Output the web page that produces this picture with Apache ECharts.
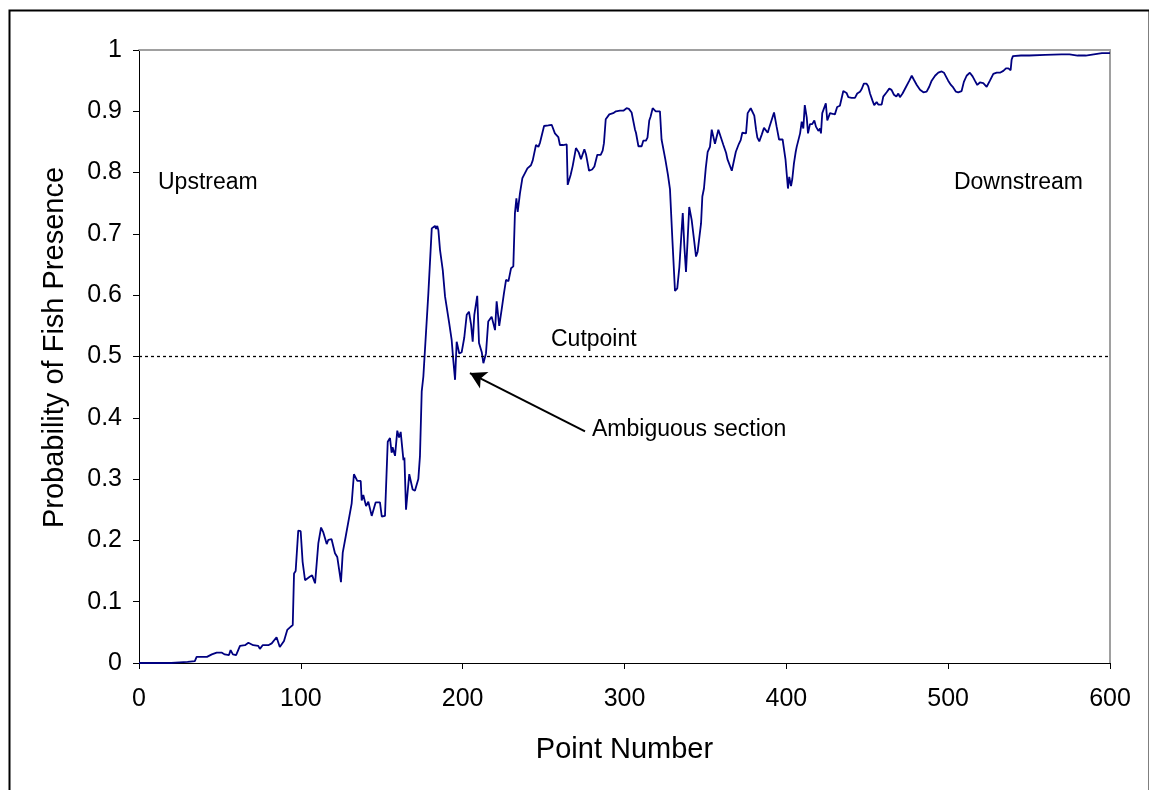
<!DOCTYPE html>
<html>
<head>
<meta charset="utf-8">
<script src="https://cdn.jsdelivr.net/npm/echarts@6/dist/echarts.min.js"></script>
<style>
  html, body { margin: 0; padding: 0; background: #ffffff; }
  #chart { width: 1149px; height: 790px; }
</style>
</head>
<body>
<div id="chart"></div>
<script>
// Point number along the stream network (upstream -> downstream)
const pointNumbers = [
  0, 10, 20, 25, 30, 34.5, 35.6, 42, 45, 48, 51, 53, 55.6, 56.6, 58, 60, 62.4, 65.5, 67.6, 70.6,
  73.7, 74.7, 76.4, 79.9, 82, 85, 87, 89.6, 91.6, 93.3, 95, 95.8, 96.8, 98.4, 99.9, 101.1, 102.6, 105.7, 107, 108.8,
  110.8, 112.5, 113.9, 116, 117, 119, 121.1, 122.5, 124.8, 125.9, 127.7, 128.9, 131.4, 132.8, 134.9, 137, 137.6, 138.6, 140.3, 141.7,
  143.8, 146.2, 148.9, 150, 152, 153.7, 155.1, 156.1, 156.7, 158.2, 159.6, 160.7, 161.7, 163.4, 164, 165, 167, 169.1, 170.5, 172.6,
  173.6, 174.7, 175.7, 176.7, 178.8, 179.5, 180.9, 181.9, 182.9, 183.6, 184.3, 185, 186, 187.7, 189.1, 189.8, 191.7, 193.2, 194.2, 195.3,
  196.3, 197.9, 199.4, 201, 202.5, 203.9, 205.2, 206.2, 207.2, 209, 210.1, 211, 211.8, 212.8, 214.4, 215.8, 217.9, 220, 221, 222.6,
  224.1, 225.5, 226.8, 228.3, 229.9, 231.3, 232.3, 233.2, 234, 235.4, 236.9, 238.1, 240, 242.2, 243.3, 245.3, 246.8, 247.8, 249, 250.3,
  251.5, 252.9, 255, 257, 259.1, 260.1, 261, 262, 263.2, 264.3, 264.9, 266.7, 268, 269, 270, 271.7, 273.1, 275.2, 276.2, 278.1,
  279, 280, 281.4, 282.4, 283.2, 285.3, 286.5, 287.3, 288.4, 289.6, 290.6, 293, 294.7, 297.2, 299.3, 301.3, 302.7, 304.4, 305.5, 306.5,
  307.1, 308.6, 310.6, 311.6, 313.2, 314.2, 315.3, 316.1, 317.4, 318.2, 319.3, 321.9, 322.9, 323.9, 325.2, 326.8, 328.1, 329.6, 331.2, 332.6,
  333.9, 335.3, 336, 337, 338, 339, 340, 341.5, 343, 344.2, 345.2, 346.2, 347.3, 348.1, 349.1, 350.2, 351.4, 352.8, 353.9, 354.9,
  355.9, 358, 359, 361.1, 362.8, 363.6, 364.8, 366.3, 367.3, 368.8, 369.8, 370.7, 371.8, 372.8, 375.1, 376.1, 378, 380.2, 381.3, 382.1,
  383.3, 384.8, 386.2, 387.3, 388.5, 389.5, 390.5, 392.4, 394, 395.5, 397.7, 398.5, 399.5, 400.3, 401, 401.8, 402.9, 403.7, 404.7, 405.8,
  406.4, 407.5, 408.5, 409.5, 410.5, 411.4, 412.6, 413.4, 414.6, 416, 417.3, 418.3, 419.8, 420.8, 421.4, 422.2, 423.3, 424.4, 425.3, 427,
  428.6, 430, 431.4, 433.1, 434.2, 435.2, 436.2, 437.2, 438.3, 440.3, 442.4, 443.8, 445.5, 446.5, 447.9, 449.6, 450.6, 451.7, 453.3, 454.3,
  455.8, 456.8, 458.9, 459.9, 461, 462, 463.6, 465, 466.5, 468, 469.2, 470.2, 471.8, 474, 476, 477.5, 478.9, 480.6, 482.6, 484.7,
  486.7, 488.3, 489.8, 491.9, 493.9, 496, 497.4, 498.6, 500, 501.7, 503.1, 504.8, 506.2, 508.3, 509.7, 511.4, 513.4, 515.1, 516.5, 518,
  519.6, 521.7, 523.8, 525.8, 527.9, 530, 532, 534.1, 535.7, 537.2, 538.6, 539.2, 540, 545, 550, 560, 570, 575, 580, 585,
  590, 595, 600
];

// Modelled probability of fish presence at each point
const probabilities = [
  0, 0, 0, 0.001, 0.002, 0.003, 0.010, 0.010, 0.014, 0.017, 0.017, 0.014, 0.013, 0.021, 0.014, 0.013, 0.028, 0.029, 0.033, 0.029,
  0.028, 0.023, 0.029, 0.029, 0.032, 0.042, 0.026, 0.036, 0.054, 0.058, 0.062, 0.146, 0.150, 0.216, 0.215, 0.165, 0.135, 0.141, 0.143, 0.130,
  0.195, 0.221, 0.213, 0.194, 0.201, 0.202, 0.179, 0.173, 0.132, 0.180, 0.206, 0.209, 0.260, 0.308, 0.297, 0.297, 0.265, 0.274, 0.256, 0.263,
  0.240, 0.262, 0.262, 0.239, 0.240, 0.361, 0.367, 0.343, 0.352, 0.338, 0.379, 0.368, 0.377, 0.331, 0.335, 0.250, 0.308, 0.283, 0.281, 0.300,
  0.337, 0.443, 0.467, 0.469, 0.603, 0.604, 0.709, 0.711, 0.713, 0.708, 0.713, 0.706, 0.674, 0.641, 0.598, 0.599, 0.554, 0.527, 0.494, 0.462,
  0.524, 0.505, 0.507, 0.531, 0.568, 0.573, 0.552, 0.524, 0.568, 0.599, 0.522, 0.524, 0.507, 0.489, 0.505, 0.557, 0.565, 0.543, 0.590, 0.550,
  0.577, 0.603, 0.625, 0.623, 0.644, 0.647, 0.734, 0.758, 0.736, 0.766, 0.791, 0.793, 0.807, 0.812, 0.820, 0.845, 0.842, 0.849, 0.848, 0.876,
  0.875, 0.877, 0.878, 0.864, 0.858, 0.845, 0.848, 0.845, 0.846, 0.846, 0.780, 0.796, 0.811, 0.810, 0.840, 0.833, 0.822, 0.838, 0.830, 0.803,
  0.806, 0.805, 0.810, 0.812, 0.829, 0.829, 0.836, 0.848, 0.887, 0.888, 0.895, 0.897, 0.900, 0.901, 0.901, 0.905, 0.904, 0.898, 0.897, 0.870,
  0.865, 0.843, 0.843, 0.852, 0.852, 0.857, 0.885, 0.891, 0.905, 0.905, 0.900, 0.900, 0.854, 0.853, 0.822, 0.797, 0.773, 0.690, 0.607, 0.611,
  0.646, 0.706, 0.734, 0.679, 0.638, 0.690, 0.744, 0.723, 0.690, 0.663, 0.671, 0.670, 0.717, 0.761, 0.774, 0.807, 0.834, 0.842, 0.870, 0.870,
  0.847, 0.870, 0.870, 0.845, 0.832, 0.822, 0.825, 0.803, 0.806, 0.834, 0.836, 0.847, 0.853, 0.865, 0.864, 0.897, 0.905, 0.893, 0.870, 0.857,
  0.851, 0.862, 0.873, 0.874, 0.865, 0.874, 0.876, 0.898, 0.875, 0.854, 0.854, 0.853, 0.821, 0.821, 0.774, 0.793, 0.778, 0.790, 0.815, 0.834,
  0.842, 0.843, 0.864, 0.883, 0.872, 0.910, 0.890, 0.864, 0.879, 0.879, 0.885, 0.875, 0.868, 0.872, 0.864, 0.897, 0.897, 0.913, 0.885, 0.897,
  0.896, 0.895, 0.907, 0.909, 0.912, 0.933, 0.930, 0.930, 0.923, 0.922, 0.922, 0.929, 0.932, 0.936, 0.945, 0.945, 0.941, 0.929, 0.917, 0.910,
  0.915, 0.911, 0.911, 0.924, 0.927, 0.931, 0.937, 0.935, 0.927, 0.924, 0.929, 0.923, 0.929, 0.940, 0.950, 0.958, 0.951, 0.943, 0.935, 0.931,
  0.932, 0.940, 0.950, 0.958, 0.963, 0.965, 0.963, 0.957, 0.950, 0.943, 0.939, 0.932, 0.931, 0.933, 0.948, 0.958, 0.963, 0.957, 0.950, 0.943,
  0.947, 0.946, 0.940, 0.950, 0.961, 0.963, 0.963, 0.966, 0.970, 0.970, 0.967, 0.984, 0.990, 0.991, 0.991, 0.992, 0.993, 0.993, 0.991, 0.991,
  0.993, 0.995, 0.995
];

// Axis ticks
const xTicks = [0, 100, 200, 300, 400, 500, 600];
const yTicks = [0, 0.1, 0.2, 0.3, 0.4, 0.5, 0.6, 0.7, 0.8, 0.9, 1];

// Decision threshold and the arrow pointing at the ambiguous reach
const cutpoint = 0.5;
const arrowTail = [275.6, 0.378];
const arrowHead = [204.5, 0.473];

const FONT = '"Liberation Sans", Arial, sans-serif';
const lineData = pointNumbers.map((x, i) => [x, probabilities[i]]);
const fmt = v => String(Math.round(v * 10) / 10);

const chart = echarts.init(document.getElementById('chart'), null, { renderer: 'canvas' });
chart.setOption({
  animation: false,
  backgroundColor: '#ffffff',
  grid: { left: 139, top: 50, right: 39, bottom: 127, containLabel: false },
  xAxis: [
    {
      type: 'value', min: xTicks[0], max: xTicks[xTicks.length - 1], interval: 100,
      name: 'Point Number', nameLocation: 'middle', nameGap: 72,
      nameTextStyle: { fontFamily: FONT, fontSize: 29, color: '#000' },
      axisLine: { show: true, onZero: false, lineStyle: { color: '#000', width: 1 } },
      axisTick: { show: true, inside: false, length: 6, lineStyle: { color: '#000' } },
      axisLabel: { margin: 24, fontFamily: FONT, fontSize: 25, color: '#000', formatter: fmt },
      splitLine: { show: false }
    },
    {
      type: 'value', position: 'top', min: 0, max: 600,
      axisLine: { show: true, onZero: false, lineStyle: { color: '#a0a0a0', width: 2 } },
      axisTick: { show: false }, axisLabel: { show: false }, splitLine: { show: false }
    }
  ],
  yAxis: [
    {
      type: 'value', min: yTicks[0], max: yTicks[yTicks.length - 1], interval: 0.1,
      name: 'Probability of Fish Presence', nameLocation: 'middle', nameGap: 70, nameRotate: 90,
      nameTextStyle: { fontFamily: FONT, fontSize: 29, color: '#000', padding: [0, 0, 0, 18] },
      axisLine: { show: true, onZero: false, lineStyle: { color: '#000', width: 1 } },
      axisTick: { show: true, inside: false, length: 6, lineStyle: { color: '#000' } },
      axisLabel: { margin: 17, fontFamily: FONT, fontSize: 25, color: '#000', formatter: fmt },
      splitLine: { show: false }
    },
    {
      type: 'value', position: 'right', min: 0, max: 1,
      axisLine: { show: true, onZero: false, lineStyle: { color: '#a0a0a0', width: 2 } },
      axisTick: { show: false }, axisLabel: { show: false }, splitLine: { show: false }
    }
  ],
  series: [
    {
      type: 'line',
      data: lineData,
      showSymbol: false,
      symbol: 'none',
      lineStyle: { color: '#000080', width: 1.8 },
      z: 3,
      markLine: {
        silent: true,
        animation: false,
        symbol: ['none', 'none'],
        data: [
          {
            yAxis: cutpoint,
            lineStyle: { color: '#000', width: 1.3, type: [3, 3] },
            label: { show: false }
          },
          [
            { coord: arrowTail, symbol: 'none' },
            { coord: arrowHead, symbol: 'arrow', symbolSize: [14, 16] }
          ]
        ],
        lineStyle: { color: '#000', width: 2, type: 'solid' },
        label: { show: false }
      }
    }
  ],
  graphic: [
    {
      type: 'rect', left: 7, top: 8, silent: true,
      shape: { width: 1140, height: 800 },
      style: { fill: 'none', stroke: '#000', lineWidth: 2 }
    },
    { type: 'text', left: 158, top: 171, style: { text: 'Upstream', font: '23px ' + FONT, fill: '#000' } },
    { type: 'text', right: 66, top: 171, style: { text: 'Downstream', font: '23px ' + FONT, fill: '#000' } },
    { type: 'text', left: 551, top: 328, style: { text: 'Cutpoint', font: '23px ' + FONT, fill: '#000' } },
    { type: 'text', left: 592, top: 418, style: { text: 'Ambiguous section', font: '23px ' + FONT, fill: '#000' } }
  ]
});
</script>
</body>
</html>
